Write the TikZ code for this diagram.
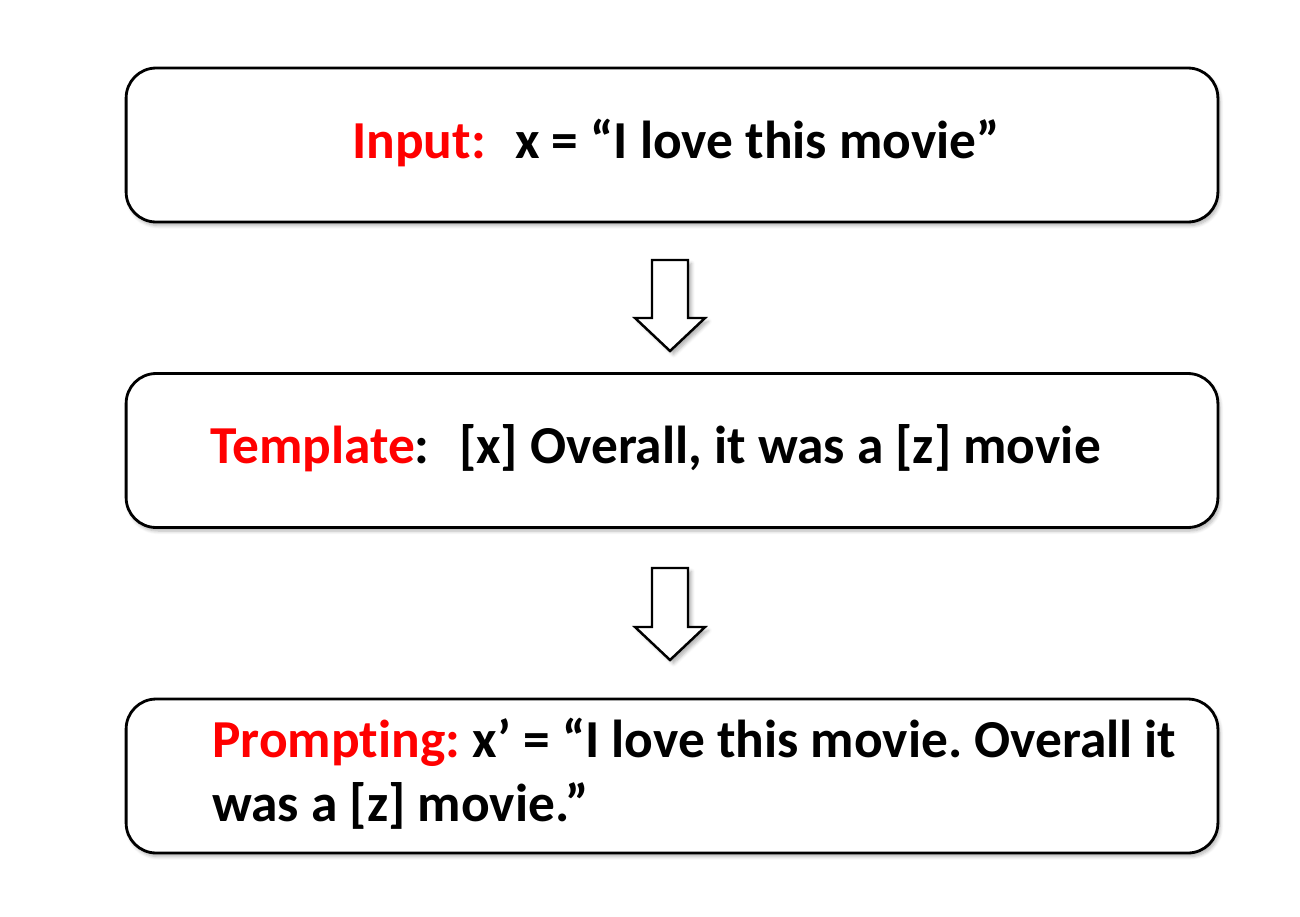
\documentclass[tikz,border=0pt]{standalone}
\usepackage{fontspec}
\setmainfont{Carlito}[Ligatures=NoCommon]
\usetikzlibrary{shadows.blur}
\frenchspacing
\tikzset{
  stagebox/.style={draw,line width=1.6pt,rounded corners=0.6cm,fill=white,
    minimum width=21.84cm,minimum height=3.08cm,
    blur shadow={shadow xshift=1.2pt,shadow yshift=-2pt,shadow blur steps=6,shadow opacity=30}},
  linetext/.style={anchor=base west,inner sep=0pt,font=\fontsize{30.4pt}{36pt}\selectfont\bfseries},
  blockarrow/.style={draw,line width=1.4pt,fill=white,line join=miter,
    blur shadow={shadow xshift=2pt,shadow yshift=-2pt,shadow blur steps=5,shadow opacity=30}},
}
\newcommand{\hl}[1]{\textcolor{red}{#1}}
\begin{document}
\begin{tikzpicture}[x=0.02cm,y=-0.02cm]
  \useasboundingbox (0,0) rectangle (1300,916);
  % the three stages
  \node[stagebox] (input) at (672,145) {};
  \node[stagebox] (template) at (672,450.5) {};
  \node[stagebox] (prompt) at (672,776) {};
  % texts
  \node[linetext] (inputtext) at (352,158) {\hl{Input:}\hspace{0.55em}x = “I love this movie”};
  \node[linetext] (templatetext) at (210,463) {\hl{Template}:\hspace{0.55em}[x] Overall, it was a [z] movie};
  \node[linetext] (prompttext) at (212,757) {\hl{Prompting:} x’ = “I love this movie. Overall it};
  \node[linetext] (prompttextb) at (212,821) {was a [z] movie.”};
  % block arrows between stages
  \foreach \top/\tip in {260/351,568/660}{
    \draw[blockarrow] (652,\top) -- (688,\top) -- (688,\tip-33) -- (705,\tip-33)
      -- (670,\tip) -- (635,\tip-33) -- (652,\tip-33) -- cycle;
  }
\end{tikzpicture}
\end{document}
